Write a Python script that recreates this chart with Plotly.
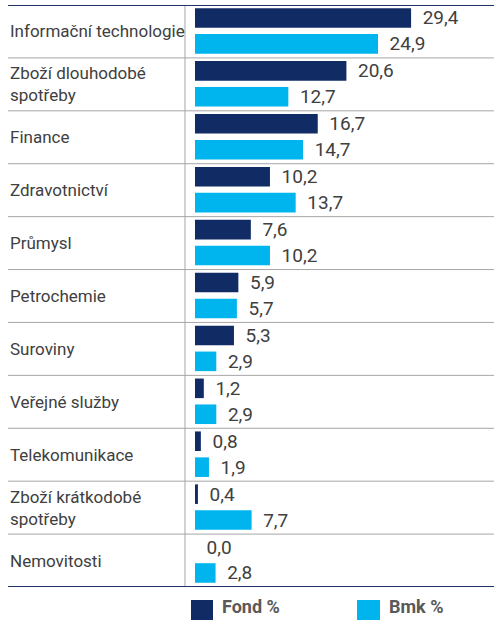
import plotly.graph_objects as go

categories = ["Informační technologie", "Zboží dlouhodobé<br>spotřeby", "Finance",
              "Zdravotnictví", "Průmysl", "Petrochemie", "Suroviny", "Veřejné služby",
              "Telekomunikace", "Zboží krátkodobé<br>spotřeby", "Nemovitosti"]
fond = [29.4, 20.6, 16.7, 10.2, 7.6, 5.9, 5.3, 1.2, 0.8, 0.4, 0.0]
bmk = [24.9, 12.7, 14.7, 13.7, 10.2, 5.7, 2.9, 2.9, 1.9, 7.7, 2.8]
series_names = ["Fond %", "Bmk %"]

NAVY = "#112b65"
CYAN = "#00b5ed"
TXT = "#404040"
FONT = "Roboto"

def fmt(v):
    return "\u00a0\u2009" + f"{v:.1f}".replace(".", ",")

fig = go.Figure()
fig.add_trace(go.Bar(
    y=categories, x=fond, orientation="h", name=series_names[0],
    marker=dict(color=NAVY, line=dict(width=0)),
    offset=-0.44, width=0.37,
    text=[fmt(v) for v in fond], textposition="outside", cliponaxis=False,
    constraintext="none", textfont=dict(family=FONT, size=19, color=TXT),
    showlegend=False,
))
fig.add_trace(go.Bar(
    y=categories, x=bmk, orientation="h", name=series_names[1],
    marker=dict(color=CYAN, line=dict(width=0)),
    offset=0.05, width=0.37,
    text=[fmt(v) for v in bmk], textposition="outside", cliponaxis=False,
    constraintext="none", textfont=dict(family=FONT, size=19, color=TXT),
    showlegend=False,
))

n = len(categories)
shapes = []
# separators
for k in range(1, n):
    shapes.append(dict(type="line", xref="paper", x0=0, x1=1, yref="y", y0=k - 0.5, y1=k - 0.5,
                       line=dict(color="#a6a6a6", width=1), layer="above"))
# vertical axis line
shapes.append(dict(type="line", xref="x", x0=-1.36, x1=-1.36, yref="y", y0=-0.5, y1=n - 0.5,
                   line=dict(color="#a6a6a6", width=1), layer="above"))
# top and bottom borders
for yy in (-0.5, n - 0.5):
    shapes.append(dict(type="line", xref="paper", x0=0, x1=1, yref="y", y0=yy, y1=yy,
                       line=dict(color="#1f3566", width=2), layer="above"))

annotations = []
for c in categories:
    annotations.append(dict(xref="paper", x=0, xanchor="left", yref="y", y=c, yanchor="middle",
                            text=c, showarrow=False, align="left",
                            font=dict(family=FONT, size=17, color=TXT)))

# custom legend
W = 486.0
H = 582.0
def px_x(p):
    return (p - 8) / W
def px_y(p):
    return (587 - p) / H
for (x0, x1, tx, col, name) in [(191, 213, 220, NAVY, series_names[0]), (357, 380, 387, CYAN, series_names[1])]:
    shapes.append(dict(type="rect", xref="paper", yref="paper", x0=px_x(x0), x1=px_x(x1),
                       y0=px_y(600), y1=px_y(640), fillcolor=col, line=dict(width=0), layer="above"))
    annotations.append(dict(xref="paper", yref="paper", x=px_x(tx), y=px_y(606), xanchor="left",
                            yanchor="middle", text="<b>" + name + "</b>", showarrow=False,
                            font=dict(family=FONT, size=18, color="#595959")))

fig.update_layout(
    width=494, height=620,
    margin=dict(l=8, r=0, t=5, b=33, pad=0),
    paper_bgcolor="white", plot_bgcolor="white",
    xaxis=dict(range=[-25.44, 40.68], visible=False, fixedrange=True),
    yaxis=dict(range=[n - 0.5, -0.5], visible=False, type="category", fixedrange=True,
               categoryorder="array", categoryarray=categories),
    shapes=shapes, annotations=annotations,
    barmode="group", uniformtext=dict(mode=False),
)

fig.write_html("out.html", config={"displayModeBar": False},
               post_script="document.body.style.margin='0';document.body.style.overflow='hidden';")
